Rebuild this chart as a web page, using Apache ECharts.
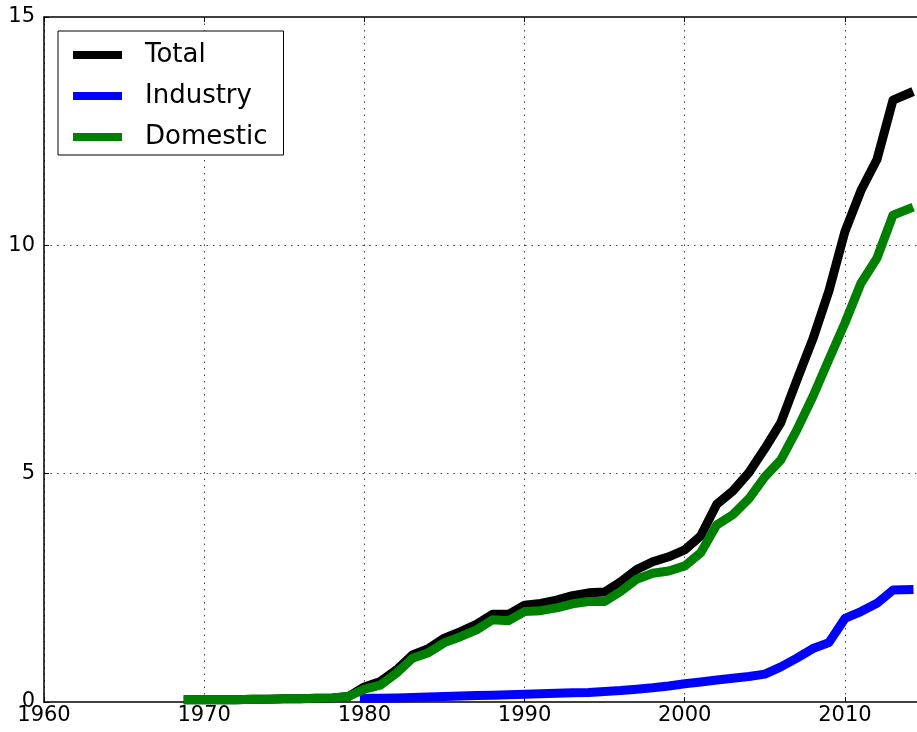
<!DOCTYPE html>
<html>
<head>
<meta charset="utf-8">
<script src="https://cdn.jsdelivr.net/npm/echarts@6/dist/echarts.min.js"></script>
<style>
    html, body { margin: 0; padding: 0; background: #fff; }
    #main { width: 917px; height: 732px; }
</style>
</head>
<body>
<div id="main"></div>
<script>
    var years = [1969, 1970, 1971, 1972, 1973, 1974, 1975, 1976, 1977, 1978, 1979,
        1980, 1981, 1982, 1983, 1984, 1985, 1986, 1987, 1988, 1989,
        1990, 1991, 1992, 1993, 1994, 1995, 1996, 1997, 1998, 1999,
        2000, 2001, 2002, 2003, 2004, 2005, 2006, 2007, 2008, 2009,
        2010, 2011, 2012, 2013, 2014];

    var total = [0.05, 0.05, 0.05, 0.05, 0.06, 0.06, 0.07, 0.07, 0.08, 0.09, 0.12,
        0.33, 0.45, 0.70, 1.03, 1.17, 1.40, 1.54, 1.70, 1.92, 1.92,
        2.12, 2.16, 2.23, 2.33, 2.39, 2.41, 2.63, 2.90, 3.07, 3.18,
        3.33, 3.64, 4.33, 4.62, 5.02, 5.55, 6.12, 7.05, 7.95, 9.00,
        10.30, 11.20, 11.88, 13.18, 13.33];

    var industry = [null, null, null, null, null, null, null, null, null, null, null,
        0.08, 0.08, 0.09, 0.10, 0.11, 0.12, 0.13, 0.14, 0.15, 0.16,
        0.17, 0.18, 0.19, 0.20, 0.21, 0.23, 0.25, 0.28, 0.31, 0.35,
        0.40, 0.44, 0.48, 0.52, 0.56, 0.61, 0.77, 0.96, 1.17, 1.30,
        1.83, 1.98, 2.16, 2.45, 2.46];

    var domestic = [0.05, 0.05, 0.05, 0.05, 0.06, 0.06, 0.07, 0.07, 0.08, 0.09, 0.12,
        0.28, 0.37, 0.63, 0.96, 1.08, 1.30, 1.43, 1.58, 1.80, 1.78,
        1.98, 2.00, 2.06, 2.15, 2.20, 2.20, 2.42, 2.69, 2.82, 2.87,
        2.98, 3.27, 3.88, 4.10, 4.45, 4.93, 5.30, 5.96, 6.69, 7.50,
        8.30, 9.17, 9.72, 10.66, 10.80];

    var names = ['Total', 'Industry', 'Domestic'];
    var colors = ['#000000', '#0000ff', '#008000'];
    var values = [total, industry, domestic];

    function pairs(arr) {
        var out = [];
        for (var i = 0; i < years.length; i++) {
            out.push([years[i], arr[i]]);
        }
        return out;
    }

    var font = 'DejaVu Sans';
    var grid = {type: [1.5, 5], color: '#444', width: 1};
    var spine = {show: true, onZero: false, lineStyle: {color: '#000', width: 1.5}};
    var tick = {show: true, inside: true, length: 5, lineStyle: {color: '#000'}};

    var series = [];
    for (var k = 0; k < names.length; k++) {
        series.push({
            name: names[k],
            type: 'line',
            data: pairs(values[k]),
            showSymbol: false,
            symbol: 'none',
            connectNulls: false,
            itemStyle: {color: colors[k]},
            lineStyle: {color: colors[k], width: 9, cap: 'square', join: 'round'},
            z: 3 + k
        });
    }

    var myChart = echarts.init(document.getElementById('main'));
    var option = {
        animation: false,
        backgroundColor: '#fff',
        textStyle: {fontFamily: font},
        grid: {left: 44, top: 17, right: 0, bottom: 30},
        legend: {
            orient: 'vertical',
            left: 58, top: 31,
            data: names,
            icon: 'rect',
            itemWidth: 49, itemHeight: 8,
            itemGap: 15,
            padding: [11, 16, 5, 15],
            borderColor: '#000', borderWidth: 1,
            backgroundColor: '#fff',
            textStyle: {fontFamily: font, fontSize: 26, lineHeight: 26, color: '#000', padding: [0, 0, 0, 18]}
        },
        xAxis: [{
            type: 'value', min: 1960, max: 2014.5, interval: 10,
            axisLine: spine,
            axisTick: tick,
            axisLabel: {
                fontFamily: font, fontSize: 21, color: '#000', margin: 3, showMaxLabel: false,
                formatter: function (v) { return String(v); }
            },
            splitLine: {show: true, showMaxLine: false, lineStyle: grid}
        }, {
            type: 'value', min: 1960, max: 2014.5, interval: 10, position: 'top',
            axisLine: spine,
            axisTick: tick,
            axisLabel: {show: false},
            splitLine: {show: false}
        }],
        yAxis: {
            type: 'value', min: 0, max: 15, interval: 5,
            axisLine: spine,
            axisTick: tick,
            axisLabel: {fontFamily: font, fontSize: 21, color: '#000', margin: 9},
            splitLine: {show: true, showMinLine: false, showMaxLine: false, lineStyle: grid}
        },
        series: series
    };
    myChart.setOption(option);
</script>
</body>
</html>
